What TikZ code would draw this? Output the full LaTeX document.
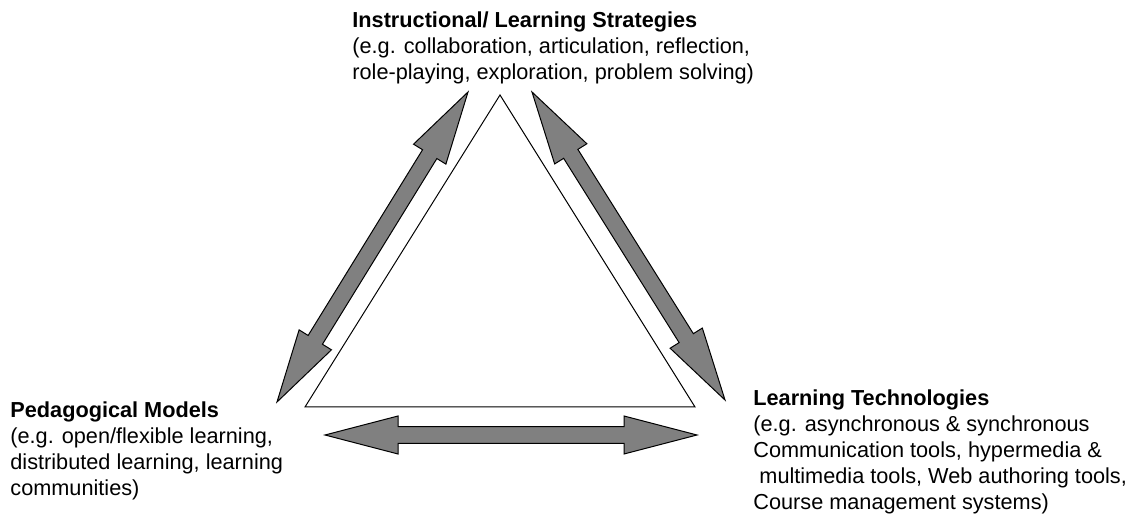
\documentclass[tikz,border=0pt]{standalone}
\usepackage{fontspec}
\setmainfont{Liberation Sans}
\usetikzlibrary{calc}
\def\headLen{36.5pt}
\def\headWid{9.5pt}
\def\shaftWid{4.2pt}
\def\drawBlockArrow#1#2{
\coordinate (hA) at ($(#1)!\headLen!(#2)$);
\coordinate (hB) at ($(#2)!\headLen!(#1)$);
\draw[blockarrow] (#1) -- ($(hA)!\headWid!90:(#2)$) -- ($(hA)!\shaftWid!90:(#2)$)
	-- ($(hB)!\shaftWid!-90:(#1)$) -- ($(hB)!\headWid!-90:(#1)$) -- (#2)
	-- ($(hB)!\headWid!90:(#1)$) -- ($(hB)!\shaftWid!90:(#1)$)
	-- ($(hA)!\shaftWid!-90:(#2)$) -- ($(hA)!\headWid!-90:(#2)$) -- cycle;
}
\tikzset{
	blockarrow/.style={draw=black, fill=gray, line width=0.5pt, line join=miter},
	areatext/.style={inner sep=0pt, anchor=north west, align=left, font=\fontsize{10.85}{13}\selectfont}
}

\begin{document}
\begin{tikzpicture}[x=0.5pt, y=0.5pt]
\useasboundingbox (0,0) rectangle (1136,520);
\coordinate (t1) at (500,425);
\coordinate (t2) at (305,113);
\coordinate (t3) at (695,113);
\coordinate (ls1) at (468,428);
\coordinate (ls2) at (277,118);
\coordinate (rs1) at (532,428);
\coordinate (rs2) at (725,120);
\coordinate (bs1) at (325,85);
\coordinate (bs2) at (697,85);
\draw[line width=0.5pt] (t1) -- (t2) -- (t3) -- cycle;
\drawBlockArrow{ls1}{ls2}
\drawBlockArrow{rs1}{rs2}
\drawBlockArrow{bs1}{bs2}
\node[areatext] (strat) at (352,509) {\textbf{Instructional/ Learning Strategies}\\
	(e.g. collaboration, articulation, reflection,\\
	role-playing, exploration, problem solving)};
\node[areatext] (pedag) at (10,119) {\textbf{Pedagogical Models}\\
	(e.g. open/flexible learning,\\
	distributed learning, learning\\
	communities)};
\node[areatext] (techn) at (753,131) {\textbf{Learning Technologies}\\
	(e.g. asynchronous \& synchronous\\
	Communication tools, hypermedia \&\\
	~multimedia tools, Web authoring tools,\\
	Course management systems)};
\end{tikzpicture}
\end{document}
